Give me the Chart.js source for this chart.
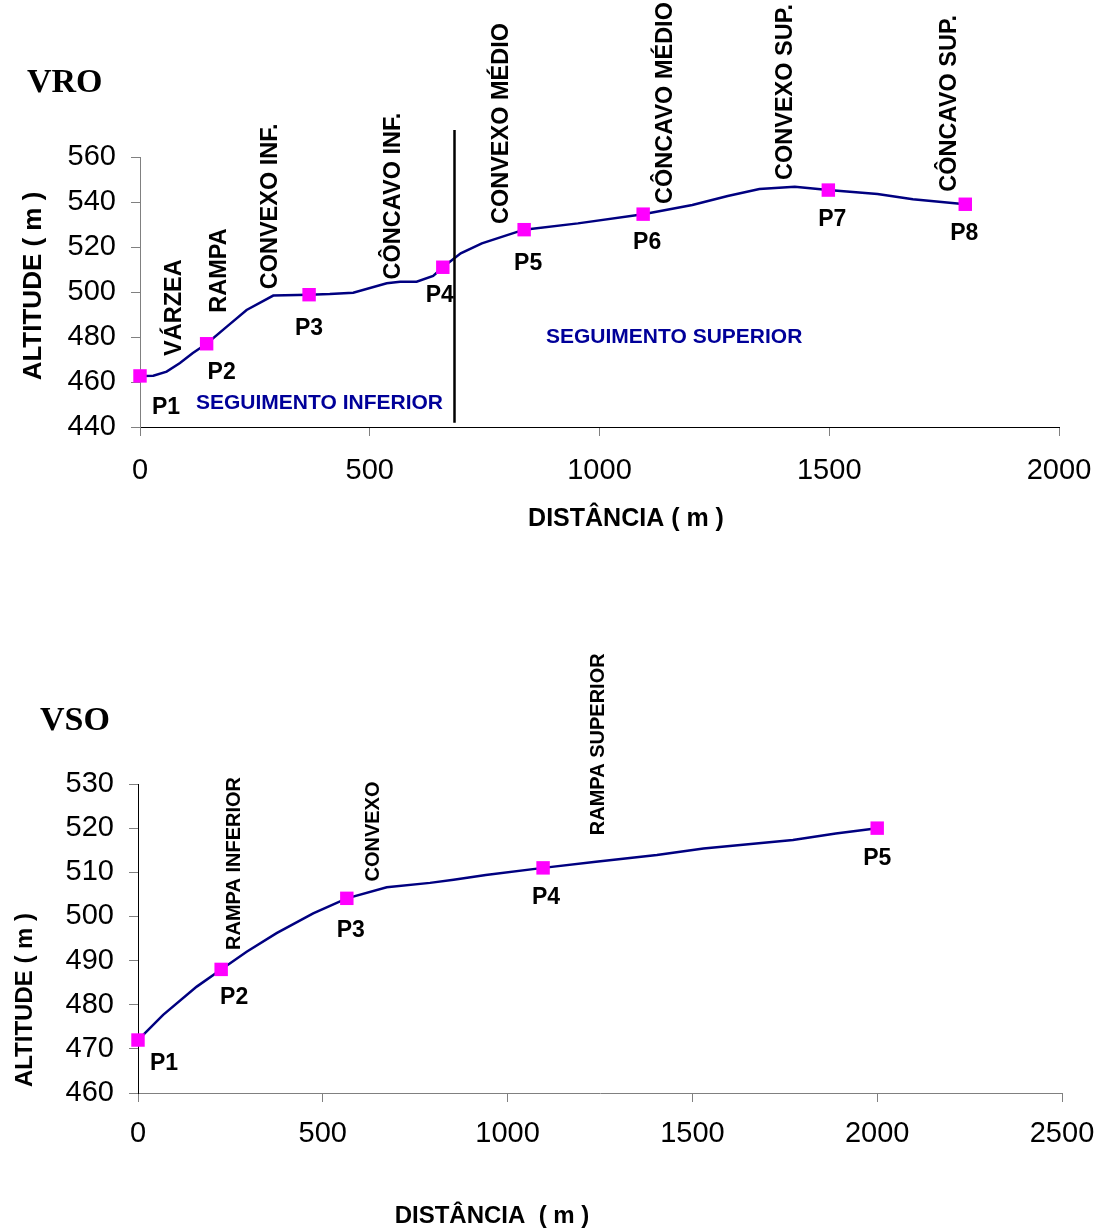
<!DOCTYPE html>
<html lang="pt">
<head>
<meta charset="UTF-8">
<title>Perfis VRO e VSO</title>
<script src="https://cdn.jsdelivr.net/npm/chart.js"></script>
<style>
  body { margin: 0; background: #fff; }
  .wrap { position: relative; width: 1102px; height: 1231px; }
  #vro { position: absolute; left: 0; top: 0; }
  #vso { position: absolute; left: 0; top: 560px; }
</style>
</head>
<body>
<div class="wrap">
  <canvas id="vro" width="1102" height="560"></canvas>
  <canvas id="vso" width="1102" height="671"></canvas>
</div>
<script>
// --- VRO: profile line (distance m, altitude m)
const vroDist = [0, 29, 58, 87, 115, 145, 189, 232, 290, 368, 413, 464, 537, 566, 602, 638, 659, 698, 744, 799, 836, 953, 1095, 1202, 1279, 1348, 1425, 1498, 1605, 1682, 1796];
const vroAlt = [462.7, 462.8, 464.6, 468.4, 472.9, 477, 484.6, 492, 498.4, 498.8, 499.1, 499.7, 503.9, 504.6, 504.6, 507.1, 511, 517.2, 521.6, 525.3, 527.7, 530.5, 534.6, 538.7, 542.7, 545.8, 546.8, 545.3, 543.6, 541.2, 539];
// VRO sample points
const vroPtNames = ['P1', 'P2', 'P3', 'P4', 'P5', 'P6', 'P7', 'P8'];
const vroPtDist = [0, 145, 368, 659, 836, 1095, 1498, 1796];
const vroPtAlt = [462.7, 477, 498.8, 511, 527.7, 534.6, 545.3, 539];
const vroXTicks = [0, 500, 1000, 1500, 2000];
const vroYTicks = [440, 460, 480, 500, 520, 540, 560];
const vroSegments = ['VÁRZEA', 'RAMPA', 'CONVEXO INF.', 'CÔNCAVO INF.', 'CONVEXO MÉDIO', 'CÔNCAVO MÉDIO', 'CONVEXO SUP.', 'CÔNCAVO SUP.'];

// --- VSO
const vsoDist = [0, 68, 159, 225, 294, 375, 474, 565, 673, 790, 854, 941, 1096, 1239, 1404, 1530, 1772, 1888, 2000];
const vsoAlt = [472, 477.7, 484.1, 488, 492, 496.2, 500.7, 504.1, 506.6, 507.6, 508.3, 509.4, 511, 512.4, 513.9, 515.4, 517.3, 518.8, 520];
const vsoPtNames = ['P1', 'P2', 'P3', 'P4', 'P5'];
const vsoPtDist = [0, 225, 565, 1096, 2000];
const vsoPtAlt = [472, 488, 504.1, 511, 520];
const vsoXTicks = [0, 500, 1000, 1500, 2000, 2500];
const vsoYTicks = [460, 470, 480, 490, 500, 510, 520, 530];
const vsoSegments = ['RAMPA INFERIOR', 'CONVEXO', 'RAMPA SUPERIOR'];

// where the texts sit (data units for anchors, px for nudges)
const vroSegPos = [[70, 471.6], [168, 490.8], [279, 501.2], [548, 505.6], [783, 530.2], [1140, 539.1], [1401, 549.8], [1758, 544.6]];
const vroNameNudge = [[26, 30], [15, 27], [0, 32], [-3, 27], [4, 32], [4, 27], [4, 28], [-1, 28]];
const vsoSegPos = [[256, 492.4], [634, 507.9], [1241, 518.4]];
const vsoNameNudge = [[26, 22], [13, 26], [4, 30], [3, 28], [0, 29]];

const SANS = "'Liberation Sans', Arial, sans-serif";
const toXY = (xs, ys) => xs.map((v, i) => ({x: v, y: ys[i]}));

const profileText = {
  id: 'profileText',
  afterDatasetsDraw(chart, args, o) {
    const {ctx} = chart;
    const x = chart.scales.x, y = chart.scales.y;
    ctx.save();

    if (o.divider) {
      const px = Math.round(x.getPixelForValue(o.divider.x)) + 0.5;
      ctx.strokeStyle = '#000';
      ctx.lineWidth = 2.5;
      ctx.beginPath();
      ctx.moveTo(px, y.getPixelForValue(o.divider.from));
      ctx.lineTo(px, y.getPixelForValue(o.divider.to));
      ctx.stroke();
    }

    // rotated segment labels, anchored at their lower end
    ctx.fillStyle = '#000';
    ctx.font = 'bold ' + o.segSize + 'px ' + SANS;
    ctx.textAlign = 'left';
    ctx.textBaseline = 'alphabetic';
    const cap = o.segSize * 0.716;
    o.segments.forEach((t, i) => {
      const [dx, dy] = o.segPos[i];
      ctx.save();
      ctx.translate(x.getPixelForValue(dx) + cap / 2, y.getPixelForValue(dy));
      ctx.rotate(-Math.PI / 2);
      ctx.fillText(t, 0, 0);
      ctx.restore();
    });

    // point names under the markers
    ctx.font = 'bold 23px ' + SANS;
    ctx.textAlign = 'center';
    ctx.textBaseline = 'alphabetic';
    o.names.forEach((t, i) => {
      const px = x.getPixelForValue(o.ptX[i]) + o.nudge[i][0];
      const py = y.getPixelForValue(o.ptY[i]) + o.nudge[i][1];
      ctx.fillText(t, px, py + 23 * 0.716 / 2);
    });

    // blue section labels
    ctx.fillStyle = '#000099';
    ctx.font = 'bold 21px ' + SANS;
    ctx.textAlign = 'left';
    ctx.textBaseline = 'middle';
    (o.sections || []).forEach(s => ctx.fillText(s.text, s.left, s.y));

    // heading
    ctx.fillStyle = '#000';
    ctx.font = "bold 34px 'Liberation Serif', 'Times New Roman', serif";
    ctx.fillText(o.heading.text, o.heading.left, o.heading.y);

    // axis titles
    ctx.font = 'bold ' + o.xTitle.size + 'px ' + SANS;
    ctx.textAlign = 'center';
    ctx.fillText(o.xTitle.text, o.xTitle.cx, o.xTitle.cy);
    ctx.save();
    ctx.translate(o.yTitle.cx, o.yTitle.cy);
    ctx.rotate(-Math.PI / 2);
    ctx.font = 'bold ' + o.yTitle.size + 'px ' + SANS;
    ctx.fillText(o.yTitle.text, 0, 0);
    ctx.restore();

    ctx.restore();
  }
};

function makeProfile(id, cfg) {
  return new Chart(document.getElementById(id), {
    type: 'scatter',
    data: {
      datasets: [
        {
          data: toXY(cfg.ptX, cfg.ptY),
          pointStyle: 'rect',
          pointRadius: 9.5,
          pointHoverRadius: 9.5,
          backgroundColor: '#ff00ff',
          borderWidth: 0,
          clip: false
        },
        {
          data: toXY(cfg.lineX, cfg.lineY),
          showLine: true,
          borderColor: '#000080',
          borderWidth: 2.5,
          pointRadius: 0,
          tension: 0,
          clip: false
        }
      ]
    },
    options: {
      responsive: false,
      animation: false,
      devicePixelRatio: 1,
      layout: { padding: { top: cfg.padTop, right: cfg.padRight, left: 0, bottom: 0 } },
      plugins: {
        legend: { display: false },
        tooltip: { enabled: false },
        profileText: cfg.text
      },
      scales: {
        x: {
          type: 'linear',
          min: cfg.xTicks[0],
          max: cfg.xTicks[cfg.xTicks.length - 1],
          afterBuildTicks: s => { s.ticks = cfg.xTicks.map(v => ({value: v})); },
          afterFit: s => { s.height = cfg.xHeight; s.paddingLeft = 0; s.paddingRight = 0; },
          ticks: { font: { family: SANS, size: 29 }, color: '#000', padding: cfg.xPad, maxRotation: 0, callback: v => String(v) },
          grid: { drawOnChartArea: false, drawTicks: true, tickLength: 9, color: '#808080' },
          border: { display: true, color: cfg.xBorder, width: 1 }
        },
        y: {
          type: 'linear',
          min: cfg.yTicks[0],
          max: cfg.yTicks[cfg.yTicks.length - 1],
          afterBuildTicks: s => { s.ticks = cfg.yTicks.map(v => ({value: v})); },
          afterFit: s => { s.width = cfg.yWidth; },
          ticks: { font: { family: SANS, size: 29 }, color: '#000', padding: 15, callback: v => String(v) },
          grid: { drawOnChartArea: false, drawTicks: true, tickLength: 9, color: '#808080' },
          border: { display: true, color: cfg.yBorder, width: 1 }
        }
      }
    },
    plugins: [profileText]
  });
}

makeProfile('vro', {
  lineX: vroDist, lineY: vroAlt, ptX: vroPtDist, ptY: vroPtAlt,
  xTicks: vroXTicks, yTicks: vroYTicks,
  padTop: 157, padRight: 43, xHeight: 133, yWidth: 140, xPad: 18,
  xBorder: '#000', yBorder: '#808080',
  text: {
    segments: vroSegments, segPos: vroSegPos, segSize: 23.5,
    names: vroPtNames, ptX: vroPtDist, ptY: vroPtAlt, nudge: vroNameNudge,
    divider: { x: 683, from: 572, to: 441.9 },
    sections: [
      { text: 'SEGUIMENTO INFERIOR', left: 196, y: 403 },
      { text: 'SEGUIMENTO SUPERIOR', left: 546, y: 337 }
    ],
    heading: { text: 'VRO', left: 27, y: 83 },
    xTitle: { text: 'DISTÂNCIA ( m )', cx: 626, cy: 519, size: 25 },
    yTitle: { text: 'ALTITUDE ( m )', cx: 34, cy: 286, size: 26 }
  }
});

makeProfile('vso', {
  lineX: vsoDist, lineY: vsoAlt, ptX: vsoPtDist, ptY: vsoPtAlt,
  xTicks: vsoXTicks, yTicks: vsoYTicks,
  padTop: 224, padRight: 40, xHeight: 138, yWidth: 138, xPad: 15,
  xBorder: '#808080', yBorder: '#000',
  text: {
    segments: vsoSegments, segPos: vsoSegPos, segSize: 20,
    names: vsoPtNames, ptX: vsoPtDist, ptY: vsoPtAlt, nudge: vsoNameNudge,
    heading: { text: 'VSO', left: 40, y: 161 },
    xTitle: { text: 'DISTÂNCIA  ( m )', cx: 492, cy: 656, size: 24 },
    yTitle: { text: 'ALTITUDE ( m )', cx: 25, cy: 440, size: 24 }
  }
});
</script>
</body>
</html>
